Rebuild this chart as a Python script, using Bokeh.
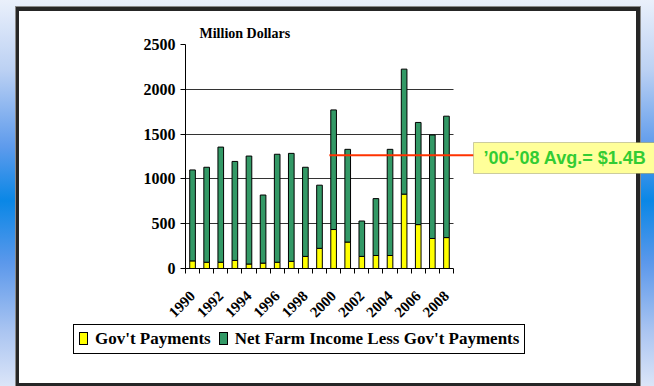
import numpy as np
from bokeh.plotting import figure
from bokeh.layouts import column
from bokeh.models import (ColumnDataSource, FixedTicker, BoxAnnotation, Label, Range1d, Div)
from bokeh.embed import file_html
from bokeh.resources import INLINE

# ---------------- data ----------------
years = list(range(1990, 2009))
gov_payments = [85, 70, 70, 90, 50, 60, 70, 80, 135, 225,
                435, 295, 135, 145, 145, 830, 490, 335, 345]
net_less_gov = [1015, 1060, 1285, 1105, 1205, 760, 1205, 1205, 995, 705,
                1335, 1035, 395, 635, 1185, 1395, 1140, 1155, 1355]
y_ticks = [0, 500, 1000, 1500, 2000, 2500]
x_label_years = [1990, 1992, 1994, 1996, 1998, 2000, 2002, 2004, 2006, 2008]
series_names = ["Gov't Payments", "Net Farm Income Less Gov't Payments"]
series_colors = ["#FFFF00", "#339966"]
avg_start_year = 2000
avg_line_value = 1265
avg_label = "\u201900-\u201908 Avg.= $1.4B"
y_title = "Million Dollars"

# ---------------- layout geometry (pixels) ----------------
W, H = 654, 386
H1 = 324                         # height of the chart figure; legend strip below
FL, FT, FB = 185, 44, 268        # frame left / top / bottom
BAR_RIGHT = 453                  # where the category axis ends
CALLOUT_LEFT, CALLOUT_TOP, CALLOUT_BOTTOM = 473, 142, 173
CALLOUT_TEXT_PAD = 10

x0 = years[0] - 0.5
x1 = years[-1] + 0.5
px_per_x = (BAR_RIGHT - FL) / (x1 - x0)
x_end = x0 + (W - FL) / px_per_x
px_per_y = (FB - FT) / (y_ticks[-1] - y_ticks[0])


def px_to_x(px):
    return x0 + (px - FL) / px_per_x


def px_to_y(py):
    return y_ticks[0] + (FB - py) / px_per_y


source = ColumnDataSource(dict(year=years, gov=gov_payments, net=net_less_gov))

p = figure(width=W, height=H1,
           x_range=Range1d(x0, x_end),
           y_range=Range1d(y_ticks[0], y_ticks[-1]),
           output_backend="svg", toolbar_location=None,
           min_border_left=FL, min_border_right=0,
           min_border_top=FT, min_border_bottom=H1 - FB)
p.border_fill_alpha = 0
p.background_fill_alpha = 0
p.outline_line_color = None

p.title.text = y_title
p.title.align = "left"
p.title.offset = 14
p.title.standoff = 7
p.title.text_font = "Liberation Serif"
p.title.text_font_style = "bold"
p.title.text_font_size = "14px"
p.title.text_color = "black"

# grid
p.xgrid.visible = False
p.ygrid.ticker = FixedTicker(ticks=y_ticks)
p.ygrid.grid_line_color = "#333333"
if "cross_bounds" in p.ygrid[0].properties():
    p.ygrid.cross_bounds = (x0, x1)
else:
    p.add_layout(BoxAnnotation(left=x1, right=px_to_x(636), fill_color="white",
                               fill_alpha=1, line_color=None, level="underlay"))

renderers = p.vbar_stack(["gov", "net"], x="year", width=0.4, source=source,
                         color=series_colors, line_color="black", line_width=1)

# average line and call-out
p.line(x=[avg_start_year - 0.3, px_to_x(CALLOUT_LEFT)], y=[avg_line_value, avg_line_value],
       line_color="#FF3300", line_width=2)
p.add_layout(BoxAnnotation(left=px_to_x(CALLOUT_LEFT), right=px_to_x(W + 10),
                           top=px_to_y(CALLOUT_TOP), bottom=px_to_y(CALLOUT_BOTTOM),
                           fill_color="#FFFF99", fill_alpha=1,
                           line_color="#555533", line_width=1))
p.add_layout(Label(x=px_to_x(CALLOUT_LEFT + CALLOUT_TEXT_PAD),
                   y=px_to_y((CALLOUT_TOP + CALLOUT_BOTTOM) / 2), text=avg_label,
                   text_font="Liberation Sans", text_font_style="bold",
                   text_font_size="18px", text_color="#33CC33",
                   text_baseline="middle", text_align="left"))

# axes
p.yaxis.ticker = FixedTicker(ticks=y_ticks)
p.yaxis.minor_tick_line_color = None
p.yaxis.major_tick_out = 5
p.yaxis.major_tick_in = 0
p.yaxis.major_label_standoff = 5
p.yaxis.axis_line_color = "black"
p.yaxis.major_label_text_font = "Liberation Serif"
p.yaxis.major_label_text_font_style = "bold"
p.yaxis.major_label_text_font_size = "16px"
p.yaxis.major_label_text_color = "black"

boundaries = [y - 0.5 for y in years] + [years[-1] + 0.5]
p.xaxis.ticker = FixedTicker(ticks=x_label_years, minor_ticks=boundaries)
p.xaxis.bounds = (x0, x1)
p.xaxis.major_tick_line_color = None
p.xaxis.major_tick_out = 0
p.xaxis.major_tick_in = 0
p.xaxis.minor_tick_line_color = "black"
p.xaxis.minor_tick_out = 5
p.xaxis.minor_tick_in = 0
p.xaxis.axis_line_color = "black"
p.xaxis.major_label_orientation = np.pi / 4
p.xaxis.major_label_standoff = 20
p.xaxis.major_label_text_font = "Liberation Serif"
p.xaxis.major_label_text_font_style = "bold"
p.xaxis.major_label_text_font_size = "15px"
p.xaxis.major_label_text_color = "black"

# ---------------- legend strip ----------------
swatch = ("display:inline-block;width:9px;height:13px;background:{c};"
          "border:1px solid #000;box-sizing:border-box;vertical-align:-1px;margin-right:7px")
parts = []
for i, (name, color) in enumerate(zip(series_names, series_colors)):
    gap = "margin-right:8px" if i < len(series_names) - 1 else ""
    parts.append(f'<span style="{swatch.format(c=color)}"></span>'
                 f'<span style="{gap}">{name}</span>')
legend_html = (
    '<div style="margin-left:73px;margin-top:0px;display:inline-block;'
    'border:1px solid #000;background:#fff;padding:3px 5px;'
    "font-family:'Liberation Serif';font-weight:bold;font-size:17px;"
    'line-height:22px;white-space:nowrap;color:#000">' + "".join(parts) + "</div>"
)
legend_div = Div(text=legend_html, width=W, height=H - H1, margin=(0, 0, 0, 0))

# slide background: blue gradient, white panel with dark frame
layout = column(p, legend_div, spacing=0, styles={
    "background": (
        "linear-gradient(#ffffff,#ffffff) 19px 11px / 617px 372px no-repeat, "
        "linear-gradient(#262626,#262626) 16px 7px / 624px 379px no-repeat, "
        "linear-gradient(#8a8a8a,#8a8a8a) 15px 6px / 626px 380px no-repeat, "
        "linear-gradient(to bottom, #eaf0fb 0%, #bcd1f3 18%, #5e9bec 38%, "
        "#0a87e6 52%, #5b98eb 68%, #abc5f1 86%, #dbe5f8 100%)"
    )
})

open("out.html", "w").write(file_html(layout, INLINE))
